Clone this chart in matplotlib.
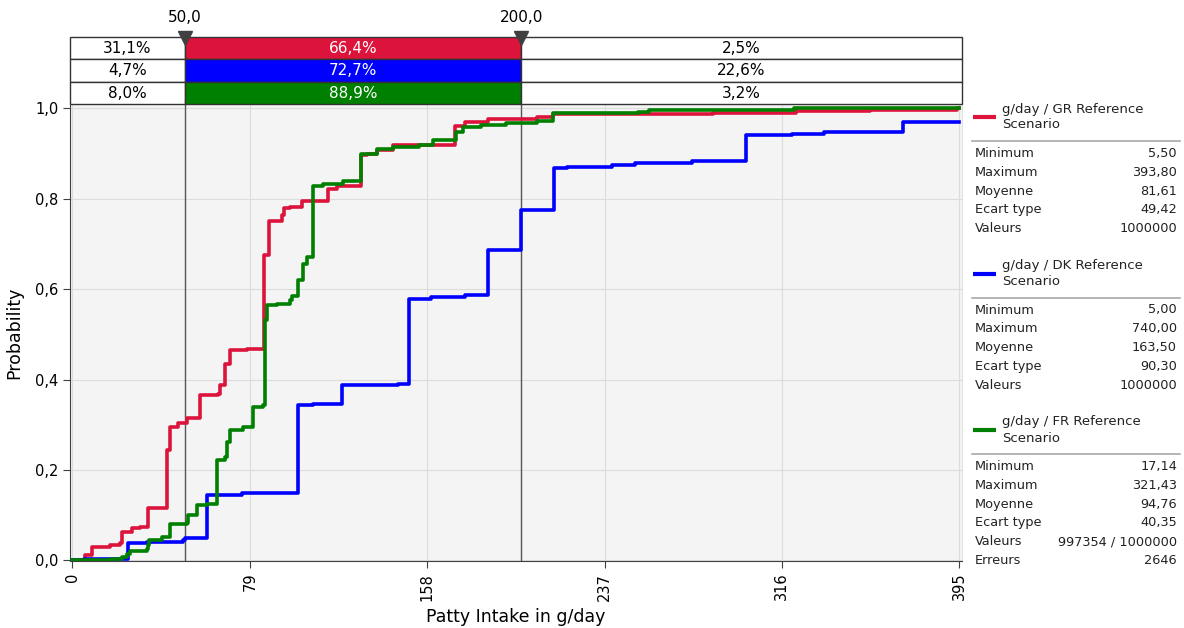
import matplotlib
matplotlib.use('Agg')
import matplotlib.pyplot as plt
from matplotlib.ticker import FuncFormatter

# ---- data (cumulative probability, step functions) ----
gr_x = [0, 5.6, 8.6, 16.7, 21.2, 21.9, 26.4, 30.1, 33.6, 42.0, 43.4, 47.0, 50.9,
        56.8, 64.9, 65.7, 67.9, 70.2, 77.6, 85.2, 87.4, 93.2, 94.2, 96.9, 102.4,
        113.7, 117.7, 128.4, 131.0, 135.5, 142.8, 170.4, 174.8, 185.3, 206.7,
        213.9, 285.5, 322.1, 355.2, 393.8, 395]
gr_p = [0.0, 0.011, 0.029, 0.035, 0.038, 0.063, 0.071, 0.074, 0.115, 0.243, 0.295,
        0.304, 0.314, 0.365, 0.369, 0.387, 0.435, 0.466, 0.468, 0.675, 0.751, 0.763,
        0.780, 0.782, 0.796, 0.822, 0.829, 0.896, 0.900, 0.907, 0.918, 0.961, 0.970,
        0.976, 0.981, 0.987, 0.989, 0.994, 0.996, 1.0, 1.0]

dk_x = [0, 5.0, 24.9, 33.1, 49.4, 50.1, 59.8, 75.4, 100.6, 107.3, 120.1, 145.1,
        149.9, 159.7, 174.8, 185.3, 199.6, 214.7, 220.3, 240.2, 250.5, 276.0, 299.9,
        320.6, 334.9, 369.9, 395]
dk_p = [0.0, 0.003, 0.038, 0.040, 0.044, 0.050, 0.144, 0.148, 0.343, 0.345, 0.387,
        0.389, 0.578, 0.582, 0.587, 0.687, 0.776, 0.868, 0.870, 0.874, 0.879, 0.883,
        0.942, 0.944, 0.948, 0.970, 0.970]

fr_x = [0, 17.1, 21.9, 24.1, 25.6, 33.1, 33.8, 34.2, 39.7, 43.4, 50.9, 51.6, 55.3,
        59.8, 64.2, 67.9, 68.7, 70.2, 76.1, 80.5, 85.0, 85.7, 86.8, 90.9, 96.9, 97.6,
        100.6, 102.8, 104.3, 107.3, 111.7, 120.6, 128.4, 135.5, 142.9, 154.2, 160.6,
        170.9, 174.1, 182.0, 193.2, 206.7, 213.9, 252.1, 256.9, 321.4, 395]
fr_p = [0.0, 0.003, 0.007, 0.015, 0.020, 0.024, 0.033, 0.044, 0.052, 0.080, 0.083,
        0.100, 0.122, 0.125, 0.223, 0.229, 0.262, 0.289, 0.295, 0.339, 0.343, 0.531,
        0.564, 0.568, 0.575, 0.584, 0.621, 0.656, 0.671, 0.827, 0.833, 0.839, 0.900,
        0.909, 0.915, 0.918, 0.929, 0.948, 0.958, 0.963, 0.968, 0.973, 0.990, 0.992,
        0.997, 1.0, 1.0]

# percentages in the band above the chart (rows: GR, DK, FR)
limits = [50.0, 200.0]
band_low = [31.1, 4.7, 8.0]
band_mid = [66.4, 72.7, 88.9]
band_high = [2.5, 22.6, 3.2]

x_ticks = [0, 79, 158, 237, 316, 395]
y_ticks = [0.0, 0.2, 0.4, 0.6, 0.8, 1.0]

series_names = ['g/day / GR Reference\nScenario',
                'g/day / DK Reference\nScenario',
                'g/day / FR Reference\nScenario']
series_colors = ['#DC143C', '#0000FF', '#008000']

stat_labels = ['Minimum', 'Maximum', 'Moyenne', 'Ecart type', 'Valeurs', 'Erreurs']
gr_stats = ['5,50', '393,80', '81,61', '49,42', '1000000']
dk_stats = ['5,00', '740,00', '163,50', '90,30', '1000000']
fr_stats = ['17,14', '321,43', '94,76', '40,35', '997354 / 1000000', '2646']

W, H = 1184, 628
plt.rcParams['font.family'] = 'DejaVu Sans'

fig = plt.figure(figsize=(W / 100, H / 100), dpi=100)
fig.patch.set_facecolor('white')

xmin, xmax = -1.1, 396.1


def frac(left, top, right, bottom):
    return [left / W, 1 - bottom / H, (right - left) / W, (bottom - top) / H]


# ---- main chart ----
ax = fig.add_axes(frac(70, 105, 961.7, 561))
ax.set_facecolor('#F4F4F4')
ax.set_xlim(xmin, xmax)
ax.set_ylim(-0.0015, 1.0073)

for xs, ps, c in [(gr_x, gr_p, series_colors[0]),
                  (dk_x, dk_p, series_colors[1]),
                  (fr_x, fr_p, series_colors[2])]:
    ax.step(xs, ps, where='post', color=c, lw=2.6, zorder=3)

for lim in limits:
    ax.axvline(lim, color='#555555', lw=1.0, zorder=2)

ax.set_xticks(x_ticks)
ax.set_yticks(y_ticks)
ax.yaxis.set_major_formatter(FuncFormatter(lambda v, _: f'{v:.1f}'.replace('.', ',')))
ax.tick_params(axis='x', labelrotation=90, labelsize=10.5, length=5, color='#404040')
ax.tick_params(axis='y', labelsize=10.5, length=5, color='#404040')
ax.grid(True, color='#DCDCDC', lw=0.8)
ax.set_axisbelow(True)
for s in ['left', 'bottom']:
    ax.spines[s].set_color('#404040')
ax.spines['top'].set_visible(False)
ax.spines['right'].set_color('#E2E2E2')
ax.set_ylabel('Probability', fontsize=12.5, labelpad=8)
# x label sits a fixed distance below the rotated tick labels
fig.text(0.5 * (70 + 961.7) / W, 1 - 617 / H, 'Patty Intake in g/day',
         ha='center', va='center', fontsize=12.5)

# ---- band of percentages above the chart ----
tab = fig.add_axes(frac(70, 37, 961.7, 104))
tab.set_xlim(xmin, xmax)
tab.set_ylim(3, 0)
tab.axis('off')
edges = [xmin, limits[0], limits[1], xmax]
for i, (lo, mid, hi) in enumerate(zip(band_low, band_mid, band_high)):
    vals = [lo, mid, hi]
    fills = ['white', series_colors[i], 'white']
    tcols = ['black', 'white', 'black']
    for j in range(3):
        tab.barh(i + 0.5, edges[j + 1] - edges[j], left=edges[j], height=1,
                 color=fills[j], edgecolor='#333333', lw=1.0, clip_on=False)
        tab.text((edges[j] + edges[j + 1]) / 2, i + 0.52,
                 f'{vals[j]:.1f}%'.replace('.', ','), ha='center', va='center',
                 fontsize=11, color=tcols[j])
for lim in limits:
    tab.plot([lim], [0.05], marker='v', ms=10, color='#404040', clip_on=False, zorder=5)
    tab.text(lim, -0.55, f'{lim:.1f}'.replace('.', ','), ha='center', va='bottom',
             fontsize=11)

# ---- legend / statistics panel ----
leg = fig.add_axes([0, 0, 1, 1])
leg.set_xlim(0, W)
leg.set_ylim(H, 0)
leg.axis('off')
all_stats = [gr_stats, dk_stats, fr_stats]
for k in range(3):
    yc = 117 + 156.5 * k
    leg.plot([973, 996], [yc, yc], color=series_colors[k], lw=3, solid_capstyle='butt')
    name_top, name_bottom = series_names[k].split('\n')
    leg.text(1002, yc - 8, name_top, ha='left', va='center', fontsize=9.5,
             color='#222222')
    leg.text(1002, yc + 8, name_bottom, ha='left', va='center', fontsize=9.5,
             color='#222222')
    leg.plot([972, 1180], [yc + 24, yc + 24], color='#A8A8A8', lw=1.2)
    for r, val in enumerate(all_stats[k]):
        yr = yc + 36.5 + 18.8 * r
        leg.text(975, yr, stat_labels[r], ha='left', va='center', fontsize=9.3,
                 color='#222222')
        leg.text(1177, yr, val, ha='right', va='center', fontsize=9.3, color='#222222')

fig.savefig('out.png', dpi=100)
